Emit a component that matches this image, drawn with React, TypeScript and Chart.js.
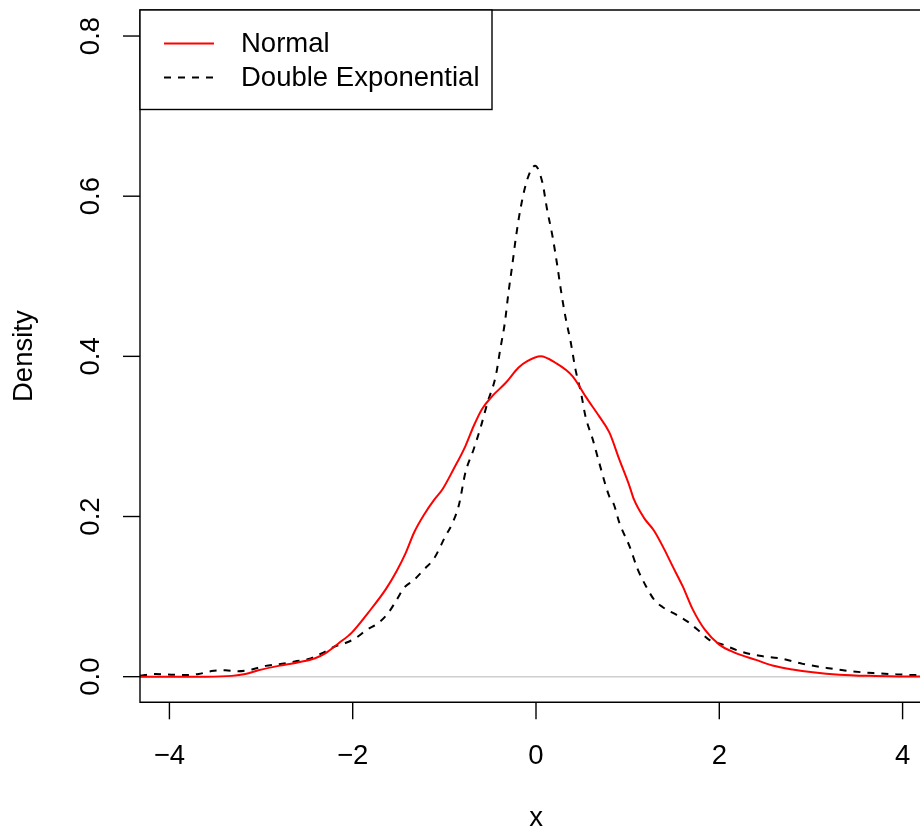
import React, { useEffect, useRef } from 'react';
import { Chart, registerables } from 'chart.js';

Chart.register(...registerables);

// Normal kernel density (red, solid)
const normalX = [-4.32, -3.6, -3.32, -3.17, -3.03, -2.81, -2.59, -2.41, -2.3, -2.15, -2.01, -1.83, -1.64, -1.52, -1.42, -1.33, -1.22, -1.11, -1.02, -0.9, -0.77, -0.68, -0.59, -0.48, -0.33, -0.19, -0.095, 0.05, 0.21, 0.4, 0.54, 0.69, 0.8, 0.91, 1.02, 1.07, 1.18, 1.29, 1.4, 1.49, 1.6, 1.71, 1.84, 2.0, 2.18, 2.4, 2.58, 2.8, 3.02, 3.31, 3.64, 4.0, 4.32];
const normalY = [0, 0, 0.001, 0.0034, 0.008, 0.0135, 0.018, 0.023, 0.029, 0.042, 0.055, 0.08, 0.109, 0.132, 0.155, 0.18, 0.2025, 0.221, 0.234, 0.259, 0.288, 0.313, 0.334, 0.35, 0.367, 0.386, 0.394, 0.4, 0.392, 0.375, 0.35, 0.325, 0.305, 0.271, 0.238, 0.221, 0.198, 0.182, 0.159, 0.138, 0.113, 0.084, 0.059, 0.04, 0.0295, 0.021, 0.014, 0.009, 0.0055, 0.0025, 0.001, 0.0003, 0];

// Double exponential density (black, dashed)
const dexpX = [-4.32, -4.16, -3.98, -3.83, -3.68, -3.54, -3.39, -3.25, -3.1, -2.95, -2.77, -2.63, -2.48, -2.34, -2.19, -2.08, -1.97, -1.84, -1.72, -1.61, -1.52, -1.44, -1.33, -1.22, -1.11, -0.99, -0.91, -0.84, -0.77, -0.68, -0.6, -0.53, -0.44, -0.39, -0.34, -0.3, -0.26, -0.22, -0.17, -0.095, -0.01, 0.07, 0.12, 0.18, 0.23, 0.27, 0.32, 0.38, 0.43, 0.49, 0.54, 0.62, 0.69, 0.8, 0.85, 0.91, 1.02, 1.11, 1.2, 1.29, 1.38, 1.53, 1.65, 1.78, 1.89, 2.04, 2.22, 2.44, 2.66, 2.91, 3.17, 3.42, 3.68, 3.93, 4.15, 4.32];
const dexpY = [0.0013, 0.0034, 0.0025, 0.002, 0.0034, 0.007, 0.008, 0.0067, 0.009, 0.0135, 0.016, 0.019, 0.022, 0.029, 0.038, 0.042, 0.048, 0.059, 0.067, 0.08, 0.096, 0.111, 0.121, 0.134, 0.148, 0.175, 0.192, 0.215, 0.255, 0.284, 0.313, 0.342, 0.375, 0.409, 0.442, 0.48, 0.513, 0.548, 0.584, 0.621, 0.638, 0.617, 0.584, 0.55, 0.515, 0.484, 0.45, 0.417, 0.384, 0.355, 0.325, 0.296, 0.267, 0.225, 0.215, 0.192, 0.163, 0.134, 0.113, 0.096, 0.087, 0.0775, 0.069, 0.057, 0.046, 0.04, 0.032, 0.026, 0.023, 0.016, 0.011, 0.007, 0.0045, 0.003, 0.002, 0.002];

const xTicks = [-4, -2, 0, 2, 4];
const xTickLabels = ['\u22124', '\u22122', '0', '2', '4'];
const yTicks = [0, 0.2, 0.4, 0.6, 0.8];
const yTickLabels = ['0.0', '0.2', '0.4', '0.6', '0.8'];
const seriesNames = ['Normal', 'Double Exponential'];
const xTitle = 'x';
const yTitle = 'Density';

const FONT = '27.5px "Liberation Sans", Arial, Helvetica, sans-serif';

const rAxesPlugin = {
  id: 'rAxes',
  beforeDatasetsDraw(chart: any) {
    const { ctx, chartArea: a, scales } = chart;
    const y0 = scales.y.getPixelForValue(0);
    ctx.save();
    ctx.strokeStyle = '#CFCFCF';
    ctx.lineWidth = 1.5;
    ctx.beginPath();
    ctx.moveTo(a.left, y0);
    ctx.lineTo(a.right, y0);
    ctx.stroke();
    ctx.restore();
  },
  afterDraw(chart: any) {
    const { ctx, chartArea: a, scales } = chart;
    const xs = scales.x;
    const ys = scales.y;
    ctx.save();
    ctx.strokeStyle = '#000';
    ctx.fillStyle = '#000';
    ctx.lineWidth = 1.4;
    ctx.setLineDash([]);
    // box (top, left, bottom; right side lies outside the picture)
    ctx.beginPath();
    ctx.moveTo(a.right + 2, a.top);
    ctx.lineTo(a.left, a.top);
    ctx.lineTo(a.left, a.bottom);
    ctx.lineTo(a.right + 2, a.bottom);
    ctx.stroke();

    ctx.font = FONT;
    // x ticks
    ctx.textAlign = 'center';
    ctx.textBaseline = 'middle';
    xTicks.forEach((v, i) => {
      const px = xs.getPixelForValue(v);
      ctx.beginPath();
      ctx.moveTo(px, a.bottom);
      ctx.lineTo(px, a.bottom + 17);
      ctx.stroke();
      ctx.fillText(xTickLabels[i], px, a.bottom + 54);
    });
    // y ticks
    yTicks.forEach((v, i) => {
      const py = ys.getPixelForValue(v);
      ctx.beginPath();
      ctx.moveTo(a.left, py);
      ctx.lineTo(a.left - 17, py);
      ctx.stroke();
      ctx.save();
      ctx.translate(a.left - 49, py);
      ctx.rotate(-Math.PI / 2);
      ctx.fillText(yTickLabels[i], 0, 0);
      ctx.restore();
    });
    // axis titles
    ctx.fillText(xTitle, xs.getPixelForValue(0), a.bottom + 116);
    ctx.save();
    ctx.translate(a.left - 116, (a.top + a.bottom) / 2);
    ctx.rotate(-Math.PI / 2);
    ctx.fillText(yTitle, 0, 0);
    ctx.restore();

    // legend
    const lx = a.left;
    const ly = a.top;
    ctx.fillStyle = '#fff';
    ctx.fillRect(lx, ly, 352, 99.5);
    ctx.strokeStyle = '#000';
    ctx.strokeRect(lx, ly, 352, 99.5);
    const datasets = chart.data.datasets;
    const rows = [ly + 33.5, ly + 67.5];
    rows.forEach((ry, i) => {
      const ds = datasets[i];
      ctx.strokeStyle = ds.borderColor;
      ctx.lineWidth = ds.borderWidth;
      ctx.setLineDash(ds.borderDash || []);
      ctx.beginPath();
      ctx.moveTo(lx + 24, ry);
      ctx.lineTo(lx + 74, ry);
      ctx.stroke();
      ctx.setLineDash([]);
      ctx.fillStyle = '#000';
      ctx.textAlign = 'left';
      ctx.fillText(seriesNames[i], lx + 101, ry + 1);
    });
    ctx.restore();
  },
};

export default function App() {
  const ref = useRef<HTMLCanvasElement>(null);
  useEffect(() => {
    if (!ref.current) return;
    const chart = new Chart(ref.current, {
      type: 'line',
      data: {
        datasets: [
          {
            label: seriesNames[0],
            data: normalX.map((x, i) => ({ x, y: normalY[i] })),
            borderColor: '#FF0000',
            borderWidth: 2,
            pointRadius: 0,
            fill: false,
            cubicInterpolationMode: 'monotone',
          },
          {
            label: seriesNames[1],
            data: dexpX.map((x, i) => ({ x, y: dexpY[i] })),
            borderColor: '#000000',
            borderWidth: 2,
            borderDash: [7, 7],
            pointRadius: 0,
            fill: false,
            cubicInterpolationMode: 'monotone',
          },
        ],
      },
      options: {
        animation: false,
        responsive: false,
        maintainAspectRatio: false,
        layout: { padding: { left: 140, top: 10, right: 0, bottom: 128.7 } },
        plugins: { legend: { display: false }, tooltip: { enabled: false } },
        scales: {
          x: { type: 'linear', min: -4.321, max: 4.19, display: false },
          y: { type: 'linear', min: -0.032, max: 0.8325, display: false },
        },
      },
      plugins: [rAxesPlugin],
    } as any);
    return () => chart.destroy();
  }, []);
  return (
    <div style={{ position: 'fixed', left: 0, top: 0, width: 920, height: 831, background: '#fff' }}>
      <canvas ref={ref} width={920} height={831} style={{ width: 920, height: 831, display: 'block' }} />
    </div>
  );
}
